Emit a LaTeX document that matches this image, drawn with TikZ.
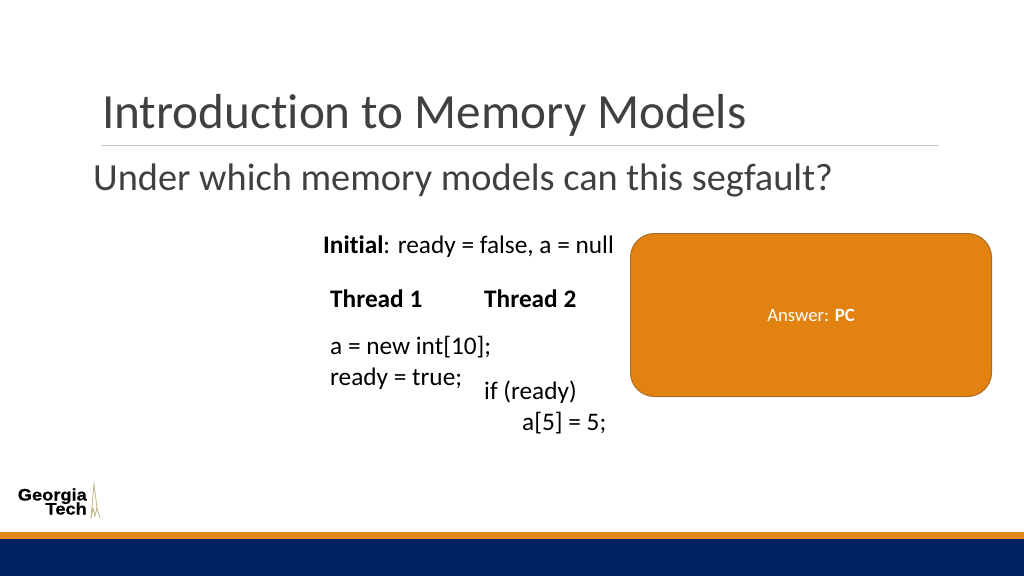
\documentclass[tikz,border=0pt]{standalone}
\usepackage{fontspec}
\setmainfont[Ligatures={NoCommon}]{Carlito}
\newfontfamily\logofont[BoldFeatures={FakeBold=0.6,FakeStretch=1.1}]{Liberation Sans}
\definecolor{slidetext}{RGB}{64,64,64}
\definecolor{answerfill}{RGB}{225,130,17}
\definecolor{answerline}{RGB}{170,110,40}
\definecolor{bandorange}{RGB}{226,135,30}
\definecolor{bandnavy}{RGB}{0,33,95}
\definecolor{spire}{RGB}{190,180,130}
\tikzset{
  code/.style={anchor=base west, inner sep=0pt, text=black, font=\fontsize{25.3}{25.3}\selectfont},
  logotext/.style={anchor=base east, inner sep=0pt, text=black, font=\fontsize{16.6}{16.6}\logofont\bfseries}
}
\begin{document}
\begin{tikzpicture}[x=1pt,y=-1pt]
      \useasboundingbox (0,0) rectangle (1024,576);
      \fill[white] (0,0) rectangle (1024,576);

      \node at(102,128) [anchor=base west, inner sep=0pt, text=slidetext, font=\fontsize{49.2}{49.2}\selectfont] (title) {Introduction to Memory Models};
      \draw[line width=1pt, black!25] (102,145.5) -- (938,145.5);
      \node at(93,190.5) [anchor=base west, inner sep=0pt, text=slidetext, font=\fontsize{38.35}{38.35}\selectfont] (question) {Under which memory models can this segfault?};

      \node at(323,253) [code] (initial) {\textbf{Initial}: ready = false, a = null};
      \node at(330,307.6) [code] (thread-one) {\textbf{Thread 1}};
      \node at(484,307) [code] (thread-two) {\textbf{Thread 2}};
      \node at(330,354) [code] (alloc) {a = new int[10];};
      \node at(330,385) [code] (ready) {ready = true;};
      \node at(484,399) [code] (check) {if (ready)};
      \node at(522,430.5) [code] (assign) {a[5] = 5;};

      \node at(811,315) [rectangle, draw=answerline, fill=answerfill, line width=1pt, rounded corners=24pt, minimum width=361pt, minimum height=163pt, text=white, font=\fontsize{18.7}{18.7}\selectfont] (answer) {Answer: \textbf{PC}};

      % logo
      \node at(87,500.5) [logotext] (georgia) {Georgia};
      \node at(87,514.5) [logotext] (tech) {Tech};
      \draw[spire, line width=0.8pt] (91,518) -- (94,484) -- (97,508) -- (100,518);
      \draw[spire, line width=0.8pt] (91,518) -- (93,508) -- (95,516) -- (97,508);

      \fill[bandorange] (0,532) rectangle (1024,539);
      \fill[bandnavy] (0,539) rectangle (1024,576);
    \end{tikzpicture}
\end{document}
